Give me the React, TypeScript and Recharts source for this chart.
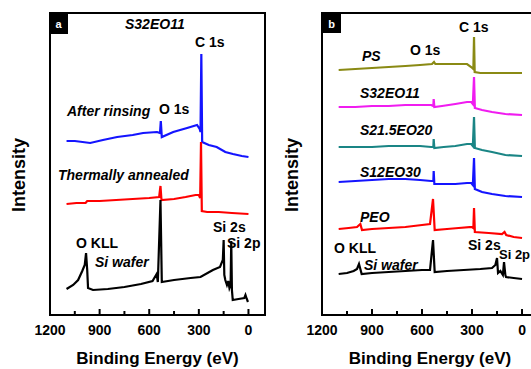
import React from "react";
import { LineChart, Line, XAxis, YAxis, ReferenceArea } from "recharts";

type Pt = { e: number; i: number };
const mk = (rows: number[][]): Pt[] => rows.map(([e, i]) => ({ e, i }));

// Panel a — S32EO11
const aRinsed = mk([
  [1100, 174], [1050, 174], [957, 172], [880, 175], [794, 178], [700, 180], [637, 182],
  [553, 183], [535, 182], [530, 194], [524, 178], [455, 183], [371, 187], [311, 190],
  [295, 186], [290, 183], [285, 261], [280, 173], [240, 170], [192, 168], [140, 163],
  [94, 161], [40, 159], [0, 158],
]);
const aAnnealed = mk([
  [1100, 111], [1040, 112], [985, 112], [975, 114], [900, 114], [800, 115], [700, 116],
  [600, 117], [540, 118], [532, 129], [526, 115], [450, 116], [380, 118], [320, 120],
  [300, 120], [292, 117], [287, 173], [282, 104], [250, 103], [180, 103], [100, 102], [0, 101],
]);
const aWafer = mk([
  [1100, 26], [1060, 30], [1030, 35], [1005, 44], [990, 50], [982, 62], [975, 45], [970, 27],
  [940, 25], [850, 26], [750, 28], [650, 31], [580, 34], [555, 41], [548, 33], [532, 115],
  [524, 33], [450, 35], [350, 37], [290, 38], [215, 45], [172, 48], [155, 55], [150, 75],
  [146, 40], [140, 35], [130, 30], [122, 34], [115, 27], [108, 30], [104, 74], [100, 25],
  [95, 15], [60, 16], [25, 17], [18, 20], [10, 16], [3, 13],
]);

// Panel b — homopolymers and block copolymers
const bPS = mk([
  [1100, 245], [1000, 246], [900, 247], [800, 248], [700, 249], [612, 250], [540, 251],
  [528, 253], [520, 251], [450, 251], [380, 251], [330, 251], [305, 248], [292, 246],
  [288, 278], [284, 243], [250, 242], [150, 242], [50, 242], [0, 242],
]);
const bS32 = mk([
  [1100, 208], [1000, 208], [900, 209], [800, 209], [700, 210], [612, 210], [545, 210],
  [532, 209], [530, 216], [526, 208], [480, 209], [400, 211], [330, 213], [305, 213],
  [295, 211], [288, 238], [283, 207], [240, 205], [180, 203], [100, 201], [0, 200],
]);
const bS21 = mk([
  [1100, 168], [1000, 168], [900, 168], [800, 169], [700, 169], [612, 169], [545, 168],
  [532, 168], [530, 176], [526, 167], [470, 168], [400, 169], [330, 171], [305, 171],
  [295, 169], [288, 198], [283, 167], [240, 165], [180, 163], [100, 160], [0, 159],
]);
const bS12 = mk([
  [1100, 133], [1000, 134], [900, 135], [800, 136], [700, 136], [612, 135], [545, 134],
  [532, 134], [530, 144], [526, 131], [470, 131], [400, 131], [330, 132], [305, 132],
  [295, 130], [288, 157], [283, 126], [240, 123], [180, 121], [100, 119], [0, 118],
]);
const bPEO = mk([
  [1100, 86], [1040, 87], [990, 88], [970, 91], [960, 85], [900, 86], [800, 87], [700, 88],
  [600, 90], [552, 91], [534, 116], [524, 85], [450, 86], [380, 87], [300, 88], [292, 87],
  [288, 107], [283, 83], [200, 82], [120, 81], [105, 83], [95, 80], [50, 78], [0, 77],
]);
const bWafer = mk([
  [1100, 41], [1050, 42], [1010, 44], [990, 46], [978, 51], [970, 46], [962, 41], [900, 42],
  [800, 43], [700, 44], [600, 45], [552, 45], [534, 75], [524, 43], [450, 44], [350, 45],
  [250, 46], [180, 47], [160, 50], [150, 57], [144, 42], [130, 44], [115, 40], [108, 53],
  [100, 40], [96, 38], [50, 37], [0, 36],
]);

const xTicks = [1200, 1050, 900, 750, 600, 450, 300, 150, 0];
const majorTicks = [1200, 900, 600, 300, 0];
const xDomain = [-100, 1200];
const yDomain = [0, 302];

const FONT = "'Liberation Sans', Arial, Helvetica, sans-serif";

const Tick = (props: any) => {
  const { x, y, payload } = props;
  const v = payload.value;
  const major = majorTicks.includes(v);
  return (
    <g>
      <line x1={x} x2={x} y1={y} y2={y - (major ? 6 : 4)} stroke="#000" strokeWidth={2} />
      {major && (
        <text x={x} y={y + 20} textAnchor="middle" fontFamily={FONT} fontWeight="bold" fontSize={14} fill="#000">
          {v}
        </text>
      )}
    </g>
  );
};

type Series = { data: Pt[]; color: string };

const Panel = ({ series, width, marginRight }: { series: Series[]; width: number; marginRight: number }) => (
  <LineChart width={width} height={369} margin={{ top: 13, right: marginRight, bottom: 24, left: 50 }}>
    <XAxis
      type="number"
      dataKey="e"
      domain={xDomain}
      reversed
      allowDataOverflow
      ticks={xTicks}
      interval={0}
      axisLine={false}
      tickLine={false}
      tickSize={0}
      tickMargin={0}
      height={30}
      tick={<Tick />}
    />
    <YAxis type="number" dataKey="i" domain={yDomain} hide allowDataOverflow />
    <ReferenceArea x1={-100} x2={1200} y1={0} y2={302} fill="none" stroke="#000" strokeWidth={2} ifOverflow="extendDomain" />
    {series.map((s, k) => (
      <Line
        key={k}
        data={s.data}
        dataKey="i"
        type="linear"
        stroke={s.color}
        strokeWidth={2.2}
        dot={false}
        activeDot={false}
        isAnimationActive={false}
      />
    ))}
  </LineChart>
);

const T = ({ x, y, children, italic, size = 14, anchor = "start" }: any) => (
  <text
    x={x}
    y={y}
    fontFamily={FONT}
    fontWeight="bold"
    fontStyle={italic ? "italic" : "normal"}
    fontSize={size}
    textAnchor={anchor}
    fill="#000"
  >
    {children}
  </text>
);

export default function App() {
  return (
    <div style={{ position: "absolute", left: 0, top: 0, width: 531, height: 369, overflow: "hidden", background: "#fff" }}>
      <div style={{ position: "absolute", left: 0, top: 0 }}>
        <Panel
          width={280}
          marginRight={15}
          series={[
            { data: aRinsed, color: "#1414ff" },
            { data: aAnnealed, color: "#ff0000" },
            { data: aWafer, color: "#000000" },
          ]}
        />
      </div>
      <div style={{ position: "absolute", left: 272, top: 0 }}>
        <Panel
          width={280}
          marginRight={13.3}
          series={[
            { data: bPS, color: "#8a8a14" },
            { data: bS32, color: "#f01cf0" },
            { data: bS21, color: "#1a8585" },
            { data: bS12, color: "#1414ff" },
            { data: bPEO, color: "#ff0000" },
            { data: bWafer, color: "#000000" },
          ]}
        />
      </div>
      <svg width={531} height={369} style={{ position: "absolute", left: 0, top: 0, pointerEvents: "none" }}>
        {/* panel labels */}
        <rect x={49} y={13} width={19} height={21} fill="#000" />
        <text x={58.5} y={28} textAnchor="middle" fontFamily={FONT} fontWeight="bold" fontSize={11} fill="#fff">a</text>
        <rect x={322} y={13} width={19} height={20} fill="#000" />
        <text x={331.5} y={27.5} textAnchor="middle" fontFamily={FONT} fontWeight="bold" fontSize={11} fill="#fff">b</text>

        {/* axis titles */}
        <T x={157.5} y={364} size={17} anchor="middle">Binding Energy (eV)</T>
        <T x={430} y={364} size={17} anchor="middle">Binding Energy (eV)</T>
        <g transform="translate(25,175) rotate(-90)">
          <T x={0} y={0} size={18} anchor="middle">Intensity</T>
        </g>
        <g transform="translate(298,175) rotate(-90)">
          <T x={0} y={0} size={18} anchor="middle">Intensity</T>
        </g>

        {/* panel a annotations */}
        <T x={125} y={29} italic>S32EO11</T>
        <T x={195} y={47}>C 1s</T>
        <T x={67} y={116} italic>After rinsing</T>
        <T x={159} y={114}>O 1s</T>
        <T x={58} y={180} italic>Thermally annealed</T>
        <T x={213} y={232}>Si 2s</T>
        <T x={227} y={248}>Si 2p</T>
        <T x={76} y={248}>O KLL</T>
        <T x={95} y={267} italic>Si wafer</T>

        {/* panel b annotations */}
        <T x={459} y={32}>C 1s</T>
        <T x={410} y={55}>O 1s</T>
        <T x={362} y={61} italic>PS</T>
        <T x={360} y={98} italic>S32EO11</T>
        <T x={360} y={135} italic>S21.5EO20</T>
        <T x={360} y={177} italic>S12EO30</T>
        <T x={360} y={222} italic>PEO</T>
        <T x={334} y={253}>O KLL</T>
        <T x={364} y={270} italic>Si wafer</T>
        <T x={468} y={250}>Si 2s</T>
        <T x={499} y={259} size={13}>Si 2p</T>
      </svg>
    </div>
  );
}
